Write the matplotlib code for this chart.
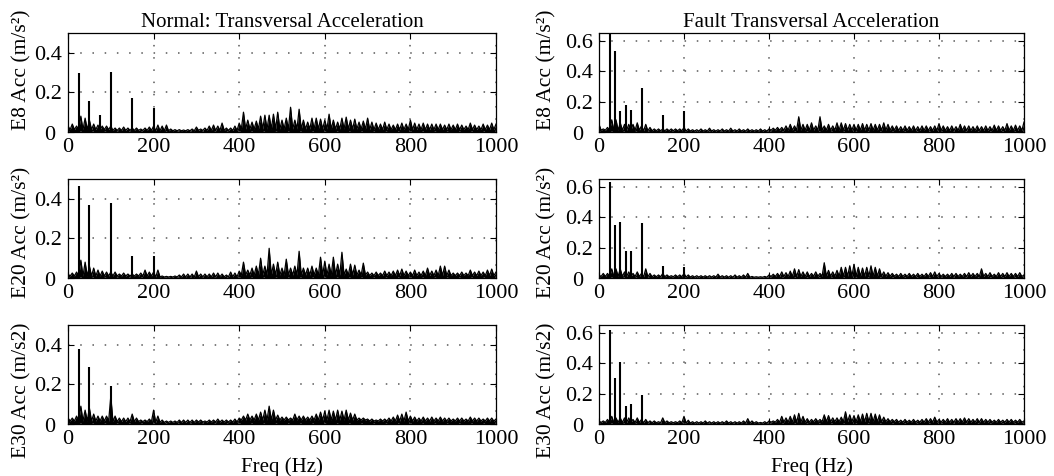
import numpy as np
import matplotlib
matplotlib.use("Agg")
import matplotlib.pyplot as plt

plt.rcParams['font.family'] = ['Liberation Serif', 'DejaVu Serif']

# ---------------- data ----------------
freq_grid = np.arange(0, 1001, 10)  # Hz, envelope sample positions

# Normal, E8
n_e8_peak_f = [25, 50, 75, 100, 150, 200]
n_e8_peak_a = [0.30, 0.155, 0.085, 0.305, 0.17, 0.12]
n_e8_top = [0.03, 0.04, 0.03, 0.08, 0.07, 0.06, 0.04, 0.035, 0.03, 0.03,
            0.03, 0.02, 0.02, 0.025, 0.02, 0.02, 0.02, 0.015, 0.02, 0.025,
            0.03, 0.035, 0.03, 0.035, 0.015, 0.012, 0.012, 0.01, 0.012, 0.015,
            0.025, 0.015, 0.02, 0.03, 0.035, 0.03, 0.045, 0.02, 0.02, 0.03,
            0.045, 0.1, 0.06, 0.05, 0.055, 0.08, 0.085, 0.085, 0.09, 0.1,
            0.06, 0.07, 0.125, 0.06, 0.115, 0.06, 0.05, 0.07, 0.07, 0.065,
            0.06, 0.09, 0.06, 0.05, 0.07, 0.075, 0.06, 0.065, 0.05, 0.055,
            0.07, 0.05, 0.045, 0.04, 0.05, 0.04, 0.035, 0.04, 0.045, 0.04,
            0.06, 0.045, 0.04, 0.045, 0.04, 0.04, 0.04, 0.04, 0.035, 0.04,
            0.035, 0.04, 0.035, 0.03, 0.045, 0.035, 0.03, 0.04, 0.035, 0.045,
            0.04]
n_e8_floor = [0.012, 0.008, 0.006, 0.008, 0.015, 0.015, 0.015, 0.012, 0.012, 0.012]

# Normal, E20
n_e20_peak_f = [25, 50, 100, 150, 200]
n_e20_peak_a = [0.465, 0.37, 0.38, 0.11, 0.11]
n_e20_top = [0.02, 0.025, 0.03, 0.09, 0.08, 0.06, 0.05, 0.04, 0.035, 0.03,
             0.03, 0.03, 0.02, 0.025, 0.02, 0.02, 0.02, 0.025, 0.04, 0.03,
             0.03, 0.04, 0.01, 0.008, 0.008, 0.01, 0.015, 0.02, 0.02, 0.02,
             0.035, 0.02, 0.02, 0.02, 0.025, 0.025, 0.02, 0.015, 0.03, 0.025,
             0.035, 0.08, 0.04, 0.05, 0.06, 0.1, 0.06, 0.15, 0.07, 0.08,
             0.05, 0.095, 0.05, 0.06, 0.135, 0.05, 0.05, 0.06, 0.05, 0.105,
             0.085, 0.07, 0.105, 0.07, 0.13, 0.045, 0.07, 0.065, 0.04, 0.075,
             0.03, 0.025, 0.03, 0.025, 0.035, 0.03, 0.035, 0.04, 0.045, 0.035,
             0.03, 0.04, 0.03, 0.035, 0.05, 0.035, 0.04, 0.06, 0.06, 0.04,
             0.025, 0.025, 0.03, 0.025, 0.04, 0.03, 0.035, 0.03, 0.04, 0.045,
             0.03]
n_e20_floor = [0.01, 0.01, 0.005, 0.006, 0.015, 0.015, 0.015, 0.012, 0.012, 0.012]

# Normal, E30
n_e30_peak_f = [25, 50, 100]
n_e30_peak_a = [0.38, 0.29, 0.19]
n_e30_top = [0.03, 0.03, 0.04, 0.09, 0.07, 0.08, 0.05, 0.04, 0.04, 0.04,
             0.14, 0.04, 0.03, 0.03, 0.03, 0.05, 0.03, 0.02, 0.02, 0.025,
             0.07, 0.04, 0.02, 0.015, 0.015, 0.015, 0.02, 0.02, 0.02, 0.02,
             0.02, 0.02, 0.015, 0.02, 0.02, 0.025, 0.02, 0.02, 0.02, 0.025,
             0.03, 0.04, 0.05, 0.04, 0.05, 0.06, 0.07, 0.09, 0.07, 0.045,
             0.035, 0.035, 0.03, 0.05, 0.04, 0.04, 0.035, 0.04, 0.05, 0.06,
             0.065, 0.07, 0.065, 0.07, 0.065, 0.07, 0.055, 0.05, 0.03, 0.03,
             0.025, 0.025, 0.02, 0.025, 0.025, 0.03, 0.035, 0.045, 0.05, 0.06,
             0.04, 0.035, 0.03, 0.035, 0.03, 0.035, 0.03, 0.035, 0.03, 0.03,
             0.025, 0.03, 0.03, 0.025, 0.035, 0.03, 0.03, 0.025, 0.03, 0.03,
             0.025]
n_e30_floor = [0.015, 0.012, 0.008, 0.01, 0.02, 0.02, 0.02, 0.015, 0.015, 0.015]

# Fault, E8
f_e8_peak_f = [25, 37.5, 50, 62.5, 75, 100, 150, 200]
f_e8_peak_a = [0.75, 0.53, 0.14, 0.175, 0.145, 0.29, 0.11, 0.135]
f_e8_top = [0.05, 0.02, 0.03, 0.08, 0.08, 0.06, 0.05, 0.05, 0.05, 0.06,
            0.04, 0.05, 0.03, 0.02, 0.02, 0.02, 0.02, 0.02, 0.02, 0.02,
            0.03, 0.02, 0.015, 0.015, 0.02, 0.015, 0.025, 0.015, 0.015, 0.02,
            0.015, 0.025, 0.015, 0.02, 0.015, 0.02, 0.015, 0.015, 0.02, 0.015,
            0.02, 0.025, 0.03, 0.03, 0.04, 0.05, 0.04, 0.1, 0.05, 0.05,
            0.06, 0.04, 0.1, 0.04, 0.05, 0.04, 0.06, 0.06, 0.055, 0.05,
            0.05, 0.05, 0.055, 0.05, 0.055, 0.05, 0.05, 0.06, 0.05, 0.04,
            0.04, 0.035, 0.04, 0.035, 0.04, 0.035, 0.04, 0.04, 0.035, 0.04,
            0.055, 0.04, 0.035, 0.04, 0.035, 0.05, 0.04, 0.04, 0.035, 0.04,
            0.035, 0.04, 0.035, 0.045, 0.04, 0.035, 0.055, 0.04, 0.045, 0.04,
            0.065]
f_e8_floor = [0.012, 0.008, 0.006, 0.006, 0.012, 0.012, 0.012, 0.01, 0.01, 0.01]

# Fault, E20
f_e20_peak_f = [25, 37.5, 50, 62.5, 75, 100, 150, 200]
f_e20_peak_a = [0.63, 0.35, 0.365, 0.175, 0.18, 0.36, 0.08, 0.075]
f_e20_top = [0.02, 0.03, 0.03, 0.06, 0.06, 0.06, 0.04, 0.04, 0.03, 0.04,
             0.03, 0.06, 0.03, 0.02, 0.02, 0.03, 0.02, 0.015, 0.02, 0.02,
             0.03, 0.02, 0.015, 0.015, 0.015, 0.015, 0.015, 0.015, 0.025, 0.015,
             0.015, 0.015, 0.02, 0.015, 0.02, 0.03, 0.01, 0.008, 0.008, 0.01,
             0.02, 0.025, 0.03, 0.04, 0.035, 0.045, 0.06, 0.055, 0.04, 0.04,
             0.03, 0.04, 0.03, 0.1, 0.05, 0.04, 0.05, 0.07, 0.07, 0.08,
             0.09, 0.07, 0.065, 0.07, 0.08, 0.07, 0.06, 0.04, 0.035, 0.03,
             0.025, 0.03, 0.025, 0.03, 0.025, 0.03, 0.025, 0.03, 0.035, 0.04,
             0.03, 0.025, 0.025, 0.03, 0.03, 0.025, 0.03, 0.035, 0.03, 0.03,
             0.06, 0.03, 0.035, 0.025, 0.035, 0.03, 0.035, 0.03, 0.03, 0.035,
             0.02]
f_e20_floor = [0.01, 0.008, 0.006, 0.005, 0.01, 0.012, 0.012, 0.01, 0.01, 0.01]

# Fault, E30
f_e30_peak_f = [25, 37.5, 50, 62.5, 75, 100]
f_e30_peak_a = [0.62, 0.30, 0.405, 0.12, 0.13, 0.19]
f_e30_top = [0.02, 0.02, 0.03, 0.05, 0.04, 0.04, 0.04, 0.04, 0.03, 0.04,
             0.03, 0.03, 0.02, 0.02, 0.015, 0.04, 0.02, 0.015, 0.015, 0.02,
             0.05, 0.025, 0.015, 0.015, 0.015, 0.02, 0.015, 0.015, 0.015, 0.015,
             0.02, 0.015, 0.015, 0.015, 0.02, 0.035, 0.02, 0.015, 0.01, 0.015,
             0.02, 0.02, 0.03, 0.05, 0.04, 0.05, 0.06, 0.07, 0.05, 0.035,
             0.03, 0.035, 0.03, 0.06, 0.055, 0.04, 0.04, 0.045, 0.08, 0.06,
             0.055, 0.06, 0.065, 0.07, 0.07, 0.065, 0.06, 0.045, 0.035, 0.03,
             0.03, 0.025, 0.03, 0.025, 0.03, 0.025, 0.03, 0.035, 0.035, 0.045,
             0.03, 0.03, 0.035, 0.03, 0.035, 0.035, 0.04, 0.035, 0.03, 0.035,
             0.035, 0.03, 0.03, 0.025, 0.03, 0.025, 0.03, 0.03, 0.025, 0.03,
             0.02]
f_e30_floor = [0.01, 0.008, 0.006, 0.006, 0.012, 0.015, 0.015, 0.012, 0.012, 0.012]

titles = ["Normal: Transversal Acceleration", "Fault Transversal Acceleration"]
ylabels = ["E8 Acc (m/s\u00b2)", "E20 Acc (m/s\u00b2)", "E30 Acc (m/s2)"]
xticks = [0, 200, 400, 600, 800, 1000]
yticks_normal = [0, 0.2, 0.4]
yticks_fault = [0, 0.2, 0.4, 0.6]

panels = [
    [(n_e8_top, n_e8_floor, n_e8_peak_f, n_e8_peak_a),
     (f_e8_top, f_e8_floor, f_e8_peak_f, f_e8_peak_a)],
    [(n_e20_top, n_e20_floor, n_e20_peak_f, n_e20_peak_a),
     (f_e20_top, f_e20_floor, f_e20_peak_f, f_e20_peak_a)],
    [(n_e30_top, n_e30_floor, n_e30_peak_f, n_e30_peak_a),
     (f_e30_top, f_e30_floor, f_e30_peak_f, f_e30_peak_a)],
]

# ---------------- layout ----------------
W, H = 1054, 476
fig = plt.figure(figsize=(W / 100, H / 100), dpi=100)
col_x = [68, 599]
col_w = [428, 425]
row_top = [33, 179, 325]
row_h = 99
ylims = [0.5, 0.65]
label_x = [-0.085, -0.1]
label_y = [0.63, 0.46, 0.34]
zero_dx = [-13, -16]


def draw_spectrum(ax, top, floor, pf, pa):
    top = np.asarray(top)
    fl = np.array([floor[min(i // 10, len(floor) - 1)] for i in range(len(freq_grid))])
    xs = np.empty(2 * len(freq_grid) - 1)
    ys = np.empty_like(xs)
    xs[0::2] = freq_grid
    xs[1::2] = freq_grid[:-1] + 5
    ys[0::2] = top
    ys[1::2] = fl[:-1]
    ax.fill_between(xs, 0, ys, color='k', lw=0)
    ax.plot(xs, ys, color='k', lw=0.9)
    ax.vlines(pf, 0, pa, color='k', lw=1.5)


for r in range(3):
    for c in range(2):
        ax = fig.add_axes([col_x[c] / W, 1 - (row_top[r] + row_h) / H,
                           col_w[c] / W, row_h / H])
        top, floor, pf, pa = panels[r][c]
        draw_spectrum(ax, top, floor, pf, pa)
        ax.set_xlim(0, 1000)
        ax.set_ylim(0, ylims[c])
        ax.set_xticks(xticks)
        yt = yticks_normal if c == 0 else yticks_fault
        ax.set_yticks(yt)
        ax.set_yticklabels([''] + ['%.1f' % v for v in yt[1:]])
        ax.annotate('0', xy=(0, 0), xycoords=('axes fraction', 'data'),
                    xytext=(zero_dx[c] * 0.72, -2.5), textcoords='offset points',
                    ha='right', va='center', fontsize=16)
        ax.tick_params(direction='in', top=True, right=True, length=4,
                       width=0.8, labelsize=16, pad=4)
        ax.grid(True, color='0.35', linestyle=(0, (1, 7)), linewidth=1.1)
        for s in ax.spines.values():
            s.set_linewidth(0.9)
        ax.set_ylabel(ylabels[r], fontsize=15.5)
        ax.yaxis.set_label_coords(label_x[c], label_y[r])
        if r == 0:
            ax.set_title(titles[c], fontsize=15, pad=4)
        if r == 2:
            ax.set_xlabel("Freq (Hz)", fontsize=15, labelpad=6)

fig.savefig("out.png", dpi=100)
